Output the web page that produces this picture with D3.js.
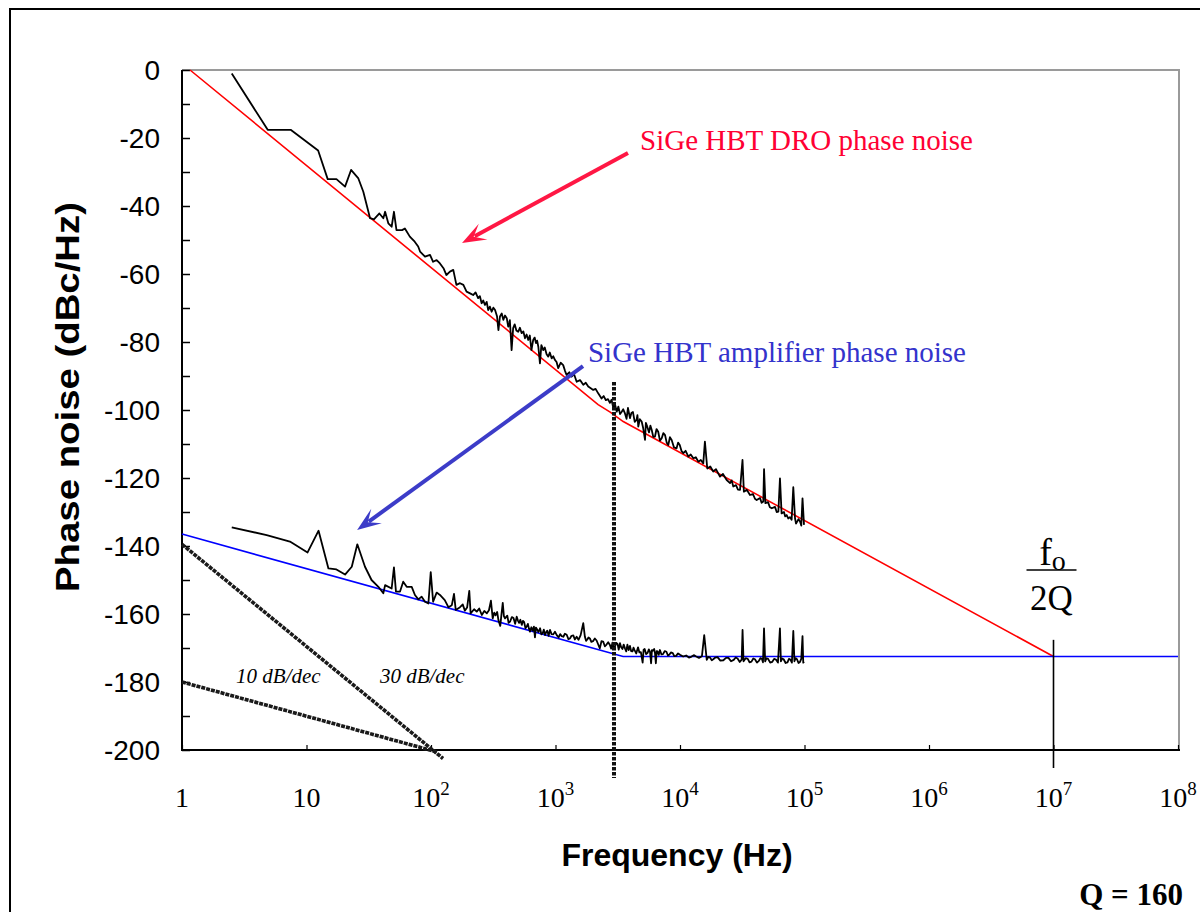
<!DOCTYPE html>
<html><head><meta charset="utf-8">
<script src="https://cdn.jsdelivr.net/npm/d3@7"></script>
<style>body{margin:0;background:#fff}svg{display:block}</style>
</head><body>
<svg id="c" width="1200" height="912"></svg>
<script>
// ---------- data ----------
const decades = [1, 10, 100, 1e3, 1e4, 1e5, 1e6, 1e7, 1e8];
const decadeBase = ["1", "10", "10", "10", "10", "10", "10", "10", "10"];
const decadeExp = ["", "", "2", "3", "4", "5", "6", "7", "8"];
const yTicks = [0, -20, -40, -60, -80, -100, -120, -140, -160, -180, -200];
const yMinorTicks = [-10, -30, -50, -70, -90, -110, -130, -150, -170, -190];

// asymptotic model lines [Hz, dBc/Hz]
const droModel = [[1.16, 0], [2200, -98.4], [2750, -100.6], [3500, -103.4], [1e7, -172.5]];
const ampModel = [[1, -136.5], [3490, -172.5], [1e8, -172.5]];
// slope reference lines
const slope30 = [[1, -139.5], [125, -202.5]];
const slope10 = [[1, -180], [112, -200.6]];
// vertical markers
const cornerMarker = [[2950, -91.8], [2950, -208.2]];
const fo2QMarker = [[1e7, -167.6], [1e7, -205.3]];

// measured DRO phase noise
const droMeasured = [
 [2.51,-1],[4.88,-17.6],[7.46,-17.6],[12.4,-23.7],[14.8,-32.1],[17.4,-32.1],[20.4,-34.3],[22.8,-29.4],
 [26.1,-31.9],[28.6,-35.8],[32.4,-43.6],[34.8,-43.9],[38.5,-42.2],[41.4,-43.6],[42.8,-41.7],[45.4,-45.1],
 [48.3,-46.1],[50.4,-41.7],[52.8,-47.1],[58.6,-47.1],[61.7,-46.6],[67.6,-49.0],[74,-50.5],[78.9,-51.9],
 [81.7,-53.4],[89.5,-54.9],[98.2,-54.4],[104,-56.4],[111,-55.9],[118,-56.9],[126,-58.3],[133,-60.3],
 [142,-59.3],[151,-58.8],[160,-63.2],[171,-62.7],[182,-63.2],[193,-65.2],[206,-65.7],[218,-66.2],
 [228,-65.4],[239,-67.1],[247,-66.5],[255,-68.6],[263,-67.8],[271,-69.1],[280,-68.2],[288,-70.6],
 [297,-69.6],[307,-71.1],[317,-69.9],[327,-70.6],[339,-72.4],[348,-76.5],[358,-72.5],[370,-71.6],
 [381,-73.5],[393,-72.2],[406,-73.0],[417,-75.5],[430,-73.6],[444,-82.4],[457,-75.9],[470,-74.8],
 [485,-76.6],[502,-77.0],[518,-75.8],[535,-77.4],[552,-76.9],[569,-78.9],[586,-77.8],[604,-79.4],
 [622,-78.1],[641,-82.4],[662,-79.4],[680,-78.7],[697,-80.3],[712,-79.6],[728,-81.4],[750,-86.3],
 [770,-80.9],[798,-82.4],[820,-81.6],[848,-83.6],[875,-84.3],[900,-83.1],[931,-84.8],[960,-84.2],
 [991,-85.3],[1020,-85.9],[1052,-87.7],[1100,-86.1],[1153,-86.8],[1190,-88.4],[1227,-89.7],[1290,-88.9],
 [1346,-90.2],[1410,-89.5],[1479,-91.7],[1574,-91.2],[1671,-92.6],[1750,-92.0],[1832,-93.1],[1920,-93.6],
 [2009,-94.1],[2100,-93.8],[2203,-95.1],[2344,-96.6],[2440,-95.9],[2535,-97.1],[2640,-96.8],[2735,-97.9],
 [2820,-97.0],[2917,-99.5],[3000,-98.2],[3105,-100.5],[3199,-99.0],[3300,-101.2],[3404,-100.5],
 [3500,-99.8],[3614,-101.0],[3720,-102.6],[3820,-99.4],[3963,-102.4],[4070,-100.9],[4188,-100.6],
 [4330,-103.5],[4477,-102.9],[4550,-101.5],[4624,-104.9],[4760,-102.7],[4920,-103.4],[5060,-105.3],
 [5236,-108.8],[5320,-103.8],[5458,-104.9],[5640,-106.6],[5780,-104.6],[5929,-105.9],[6100,-107.9],
 [6295,-107.8],[6480,-105.6],[6683,-106.4],[6900,-109.0],[7129,-108.3],[7350,-106.8],[7586,-107.4],
 [7820,-109.6],[8054,-110.3],[8300,-108.0],[8570,-108.8],[8950,-111.0],[9376,-111.3],[9650,-109.6],
 [9954,-110.3],[10300,-112.1],[10640,-112.7],[11100,-112.0],[11670,-113.7],[12200,-113.1],[12790,-114.2],
 [13400,-113.9],[14030,-115.2],[14700,-114.7],[15380,-115.7],[15850,-109.3],[16560,-117.2],[17500,-116.6],
 [18490,-118.1],[19450,-117.4],[20940,-119.6],[22130,-118.8],[23710,-120.6],[25230,-121.5],[26000,-120.7],
 [26790,-122.5],[28180,-122.1],[29200,-123.4],[30340,-123.5],[31770,-114.7],[32580,-124.0],[34430,-123.5],
 [36480,-125.0],[38550,-124.7],[40000,-126.1],[41300,-126.5],[43950,-125.9],[45200,-127.3],[46670,-126.9],
 [47320,-117.4],[48530,-127.4],[50930,-127.1],[52700,-128.6],[54580,-128.9],[57940,-128.5],[59800,-130.0],
 [61660,-129.9],[63530,-120.1],[65460,-130.4],[68390,-130.0],[70000,-131.3],[71940,-130.9],[74000,-131.9],
 [76380,-131.5],[78800,-132.3],[81280,-122.7],[83950,-131.9],[85500,-133.4],[87100,-132.9],[89500,-132.1],
 [92050,-132.8],[94200,-134.0],[96400,-126.0],[99100,-133.8]
];

// measured amplifier phase noise
const ampMeasured = [
 [2.51,-134.5],[4.79,-136.8],[7.36,-138.7],[10.2,-141.9],[12.5,-135.5],[15.0,-146.6],[17.4,-146.9],
 [20.4,-148.4],[23.1,-146.1],[25.6,-139.5],[29.5,-146.1],[33.3,-150],[37.8,-152],[41.4,-153.9],
 [42.8,-151.5],[48.3,-152.5],[50.4,-146.3],[52.3,-153.4],[56.4,-153.4],[59.8,-150.5],[63.8,-152],
 [70.0,-152],[74.3,-154.4],[79.1,-155.7],[84.1,-154.9],[89.5,-156.4],[95.3,-156.9],[99.5,-147.7],
 [104,-156.4],[111,-153.7],[118,-154.4],[129,-155.9],[138,-158],[147,-157.4],[153,-154.1],[158,-158.8],
 [171,-158],[180,-157.2],[187,-159],[195,-158.1],[203,-153.2],[208,-159.8],[222,-158.6],[233,-159.3],
 [244,-158.4],[256,-160.3],[268,-159.1],[281,-159.8],[292,-158.9],[303,-156.1],[313,-161.3],[322,-159.6],
 [330,-160.4],[340,-159.4],[348,-161.8],[360,-163.5],[368,-160.2],[377,-156.7],[385,-160.6],[393,-161.3],
 [410,-160.5],[420,-162.6],[432,-162.2],[446,-160.9],[460,-161.2],[474,-162.9],[488,-160.8],[500,-162.0],
 [510,-162.6],[522,-161.7],[536,-163.2],[548,-162.0],[560,-162.4],[574,-164.2],[587,-163.7],[600,-162.9],
 [612,-164.3],[624,-165.2],[640,-163.9],[656,-164.9],[671,-163.7],[684,-166.9],[696,-164.0],[710,-164.5],
 [730,-165.3],[752,-164.2],[770,-166.0],[790,-165.6],[806,-164.6],[824,-166.2],[840,-165.4],[860,-164.9],
 [880,-166.4],[904,-164.7],[930,-165.9],[960,-166],[990,-165.2],[1023,-166.2],[1060,-166.9],[1090,-165.9],
 [1120,-166.5],[1156,-166.7],[1190,-165.8],[1230,-166.1],[1270,-167.4],[1306,-167.2],[1345,-166.4],
 [1390,-166.3],[1430,-167.5],[1479,-166.7],[1530,-167.6],[1592,-166.2],[1671,-162.7],[1722,-166.7],
 [1760,-167.9],[1800,-167.5],[1840,-166.9],[1888,-167.2],[1940,-168.2],[2000,-168],[2070,-167.2],
 [2138,-167.8],[2200,-168.9],[2270,-170.1],[2340,-168.0],[2415,-168.1],[2490,-169.5],[2570,-169],
 [2650,-168.3],[2735,-169.1],[2800,-170.2],[2870,-168.4],[2930,-169.9],[3000,-169.6],[3080,-168.5],
 [3150,-168.8],[3220,-170.5],[3296,-168.6],[3370,-169.8],[3450,-170.3],[3530,-169.0],[3614,-170.1],
 [3700,-171.0],[3780,-169],[3870,-170.6],[3963,-169.4],[4050,-170.9],[4150,-171],[4230,-169.9],
 [4315,-170.6],[4450,-171.6],[4600,-169.8],[4720,-171.3],[4850,-171.2],[5012,-174.3],[5100,-170.5],
 [5200,-170.3],[5350,-171.8],[5500,-171.4],[5620,-170.4],[5741,-171.1],[5860,-174.5],[5950,-170.6],
 [6050,-170.8],[6200,-170.3],[6300,-171.6],[6400,-174.5],[6500,-170.9],[6600,-171],[6750,-172.0],
 [6900,-170.6],[7100,-171.9],[7300,-171.8],[7550,-170.9],[7780,-171.1],[8000,-172.2],[8200,-172],
 [8450,-171.3],[8750,-171.5],[9000,-172.4],[9300,-172.3],[9650,-171.6],[10000,-172],[10600,-172.5],
 [11200,-172.2],[11800,-172.8],[12300,-172.6],[12900,-172.1],[13500,-172.5],[14200,-172.9],[15000,-172.4],
 [15650,-166.2],[16400,-173.5],[16900,-172.6],[17400,-172.8],[18000,-173.6],[18500,-173.3],[19200,-172.8],
 [20000,-172.7],[21100,-173.7],[22300,-173.6],[23400,-172.9],[24500,-172.9],[25700,-173.9],[27000,-173.5],
 [28000,-172.8],[29000,-173.1],[30200,-174.1],[31300,-173.4],[31800,-164.7],[32400,-173.9],[33700,-173.0],
 [35000,-173.2],[36200,-174.2],[37500,-174],[38800,-173.1],[40000,-173.3],[41500,-174.3],[43000,-173.8],
 [44200,-173.0],[45500,-173.2],[46400,-174.2],[47300,-164.2],[48300,-173.9],[49600,-173.0],[51000,-173.2],
 [53000,-174.3],[55000,-174.1],[57000,-173.2],[59000,-173.4],[61200,-174.3],[63500,-164.2],[64600,-173.9],
 [66200,-173.1],[68000,-173.3],[70500,-174.4],[73000,-174.2],[75000,-173.2],[77000,-173.4],[79200,-174.3],
 [81300,-165],[83000,-173.9],[85000,-173.0],[87000,-173.3],[89500,-174.4],[92000,-174.1],[94200,-173.2],
 [96400,-166.5],[97700,-174.3],[99100,-174]
];

// annotations (positions in data coordinates)
const droLabel = {text: "SiGe HBT DRO phase noise", at: [4775, -23.5]};
const ampLabel = {text: "SiGe HBT amplifier phase noise", at: [1824, -85.9]};
const droArrow = [[3820, -24.4], [177.5, -50.9]];
const ampArrow = [[1663, -87.1], [25.5, -135.3]];
const slopeLabels = [{text: "10 dB/dec", at: [2.72, -180.3]}, {text: "30 dB/dec", at: [38.9, -180.3]}];

// ---------- layout ----------
const svg = d3.select("#c");
const X0 = 182, X1 = 1178, Y0 = 70, Y1 = 750;
const x = d3.scaleLog().domain([1, 1e8]).range([X0, X1]);
const y = d3.scaleLinear().domain([-200, 0]).range([Y1, Y0]);
const line = d3.line().x(d => x(d[0])).y(d => y(d[1]));

// outer frame
svg.append("path").attr("d", "M10,912 L10,9 L1200,9").attr("fill", "none").attr("stroke", "#000").attr("stroke-width", 2);

// plot frame
svg.append("path").attr("d", `M${X0},${Y0} L${X1+1},${Y0} L${X1+1},${Y1}`).attr("fill", "none").attr("stroke", "#9a9a9a").attr("stroke-width", 2);

// axes
const yAxis = d3.axisRight(y).tickValues(yTicks.concat(yMinorTicks)).tickSize(8).tickFormat("");
const gy = svg.append("g").attr("transform", `translate(${X0},0)`).call(yAxis);
gy.select(".domain").remove();
gy.selectAll(".tick line").attr("stroke", "#000").attr("stroke-width", 1.5);

const xAxis = d3.axisTop(x).ticks(8).tickSize(5).tickFormat("");
const gx = svg.append("g").attr("transform", `translate(0,${Y1})`).call(xAxis);
gx.select(".domain").remove();
gx.selectAll(".tick line").attr("stroke", "#000").attr("stroke-width", 1.2);

svg.append("line").attr("x1", X0).attr("x2", X0).attr("y1", Y0).attr("y2", Y1+1).attr("stroke", "#000").attr("stroke-width", 2);
svg.append("line").attr("x1", X0-1).attr("x2", X1+2).attr("y1", Y1).attr("y2", Y1).attr("stroke", "#000").attr("stroke-width", 2);

// y tick labels
svg.append("g").selectAll("text").data(yTicks).join("text")
  .attr("x", X0 - 22).attr("y", d => y(d)).attr("dy", "0.37em")
  .attr("text-anchor", "end").attr("font-family", "Liberation Sans, Arial, sans-serif")
  .attr("font-size", 28).attr("fill", "#000").text(d => d === 0 ? "0" : String(d));

// x tick labels
const xl = svg.append("g").selectAll("text").data(decades).join("text")
  .attr("x", d => x(d)).attr("y", 807).attr("text-anchor", "middle")
  .attr("font-family", "Liberation Serif, Times New Roman, serif").attr("font-size", 28).attr("fill", "#000");
xl.append("tspan").text((d, i) => decadeBase[i]);
xl.append("tspan").attr("dy", -12).attr("font-size", 19).text((d, i) => decadeExp[i]);

// axis titles
svg.append("text").attr("x", 677).attr("y", 866).attr("text-anchor", "middle")
  .attr("font-family", "Liberation Sans, Arial, sans-serif").attr("font-weight", "bold").attr("font-size", 32)
  .text("Frequency (Hz)");
svg.append("text").attr("transform", "translate(79,397) rotate(-90)").attr("text-anchor", "middle")
  .attr("font-family", "Liberation Sans, Arial, sans-serif").attr("font-weight", "bold").attr("font-size", 33)
  .attr("textLength", 390).attr("lengthAdjust", "spacingAndGlyphs")
  .text("Phase noise (dBc/Hz)");

// Q label
svg.append("text").attr("x", 1183).attr("y", 905).attr("text-anchor", "end")
  .attr("font-family", "Liberation Serif, Times New Roman, serif").attr("font-weight", "bold").attr("font-size", 31)
  .text("Q = 160");

// slope reference lines (thick dotted)
[slope30, slope10].forEach(s => {
  svg.append("path").attr("d", line(s)).attr("fill", "none").attr("stroke", "#1a1a1a")
    .attr("stroke-width", 3.6).attr("stroke-dasharray", "4,1");
});
svg.append("g").selectAll("text").data(slopeLabels).join("text")
  .attr("x", d => x(d.at[0])).attr("y", d => y(d.at[1]))
  .attr("font-family", "Liberation Serif, Times New Roman, serif").attr("font-style", "italic").attr("font-size", 21)
  .text(d => d.text);

// model lines
svg.append("path").attr("d", line(droModel)).attr("fill", "none").attr("stroke", "#ff0000").attr("stroke-width", 1.6);
svg.append("path").attr("d", line(ampModel)).attr("fill", "none").attr("stroke", "#0000ff").attr("stroke-width", 1.6);

// measured traces
[droMeasured, ampMeasured].forEach(s => {
  svg.append("path").attr("d", line(s)).attr("fill", "none").attr("stroke", "#000")
    .attr("stroke-width", 1.8).attr("stroke-linejoin", "round");
});

// vertical markers
svg.append("path").attr("d", line(cornerMarker)).attr("stroke", "#111").attr("stroke-width", 4).attr("stroke-dasharray", "3.5,1.5");
svg.append("path").attr("d", line(fo2QMarker)).attr("stroke", "#000").attr("stroke-width", 1.6);

// f0 / 2Q label
const fx = x(1e7);
const fl = svg.append("text").attr("x", fx - 1).attr("y", 565).attr("text-anchor", "middle")
  .attr("font-family", "Liberation Serif, Times New Roman, serif").attr("font-size", 38);
fl.append("tspan").text("f");
fl.append("tspan").attr("font-size", 28).attr("dy", 5).text("o");
svg.append("line").attr("x1", fx - 27).attr("x2", fx + 23).attr("y1", 570).attr("y2", 570).attr("stroke", "#000").attr("stroke-width", 1.5);
svg.append("text").attr("x", fx - 2).attr("y", 610).attr("text-anchor", "middle")
  .attr("font-family", "Liberation Serif, Times New Roman, serif").attr("font-size", 35).text("2Q");

// arrows
function arrow(pts, color) {
  const [ax, ay] = [x(pts[0][0]), y(pts[0][1])];
  const [bx, by] = [x(pts[1][0]), y(pts[1][1])];
  const len = Math.hypot(bx - ax, by - ay);
  const dx = (bx - ax) / len, dy = (by - ay) / len;
  const nx = -dy, ny = dx;
  const L = 24, W = 9;
  svg.append("line").attr("x1", ax).attr("y1", ay).attr("x2", bx - dx * L * 0.6).attr("y2", by - dy * L * 0.6)
    .attr("stroke", color).attr("stroke-width", 4);
  const p = [[bx, by], [bx - dx * L + nx * W, by - dy * L + ny * W], [bx - dx * L * 0.55, by - dy * L * 0.55],
             [bx - dx * L - nx * W, by - dy * L - ny * W]];
  svg.append("path").attr("d", "M" + p.map(q => q.join(",")).join("L") + "Z").attr("fill", color);
}
arrow(droArrow, "#ff1744");
arrow(ampArrow, "#3c3cc8");

// series labels
svg.append("text").attr("x", x(droLabel.at[0])).attr("y", y(droLabel.at[1]))
  .attr("font-family", "Liberation Serif, Times New Roman, serif").attr("font-size", 29).attr("fill", "#ff0033")
  .text(droLabel.text);
svg.append("text").attr("x", x(ampLabel.at[0])).attr("y", y(ampLabel.at[1]))
  .attr("font-family", "Liberation Serif, Times New Roman, serif").attr("font-size", 29).attr("fill", "#3333cc")
  .text(ampLabel.text);
</script>
</body></html>
